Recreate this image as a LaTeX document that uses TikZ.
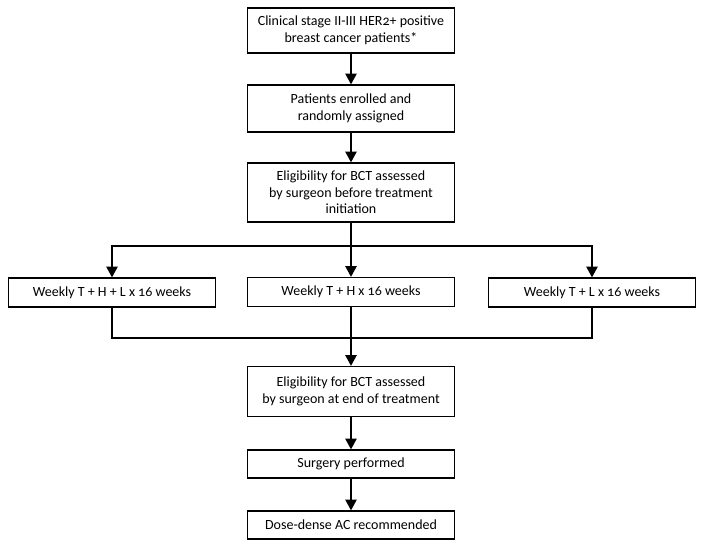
\documentclass[tikz,border=0pt]{standalone}
\usepackage{fontspec}
\setmainfont{Carlito}[Numbers=OldStyle]
\usetikzlibrary{arrows.meta}

\tikzset{
  stepbox/.style={draw, line width=1pt, align=center, inner sep=1pt,
    minimum width=155.25pt, font=\fontsize{10.5}{12.5}\selectfont},
  flowarrow/.style={line width=1pt, -{Triangle[width=8.5pt,length=8pt]}},
  flowline/.style={line width=1pt}
}

\begin{document}
\begin{tikzpicture}[x=0.75pt,y=0.75pt,yscale=-1,xscale=1]
  \path[use as bounding box] (0,0) rectangle (704,548);

  % Main column
  \node[stepbox, minimum height=33.75pt] (clinical) at (351,30.5) {Clinical stage II-III HER2+ positive\\breast cancer patients*};
  \node[stepbox, minimum height=35.25pt] (enrolled) at (351,108.5) {Patients enrolled and\\randomly assigned};
  \node[stepbox, minimum height=44.25pt] (eligpre) at (351,192.5) {Eligibility for BCT assessed\\by surgeon before treatment\\initiation};

  % Treatment arms
  \node[stepbox, minimum height=21.75pt] (armthl) at (112,292.5) {Weekly T + H + L x 16 weeks};
  \node[stepbox, minimum height=21.75pt] (armth) at (351,292) {Weekly T + H x 16 weeks};
  \node[stepbox, minimum height=21.75pt] (armtl) at (592,292.5) {Weekly T + L x 16 weeks};

  % After treatment
  \node[stepbox, minimum height=37.5pt] (eligend) at (351,391.5) {Eligibility for BCT assessed\\by surgeon at end of treatment};
  \node[stepbox, minimum height=21pt] (surgery) at (351,464) {Surgery performed};
  \node[stepbox, minimum height=21pt] (dosedense) at (351,525) {Dose-dense AC recommended};

  \coordinate (split) at (351,246);
  \coordinate (join) at (351,338);

  \draw[flowarrow] (clinical) -- (enrolled);
  \draw[flowarrow] (enrolled) -- (eligpre);
  \draw[flowline] (eligpre) -- (split);
  \draw[flowarrow] (split) -| (armthl);
  \draw[flowarrow] (split) -- (armth);
  \draw[flowarrow] (split) -| (armtl);
  \draw[flowline] (armthl) |- (join) -| (armtl);
  \draw[flowarrow] (armth) -- (eligend);
  \draw[flowarrow] (eligend) -- (surgery);
  \draw[flowarrow] (surgery) -- (dosedense);
\end{tikzpicture}
\end{document}
